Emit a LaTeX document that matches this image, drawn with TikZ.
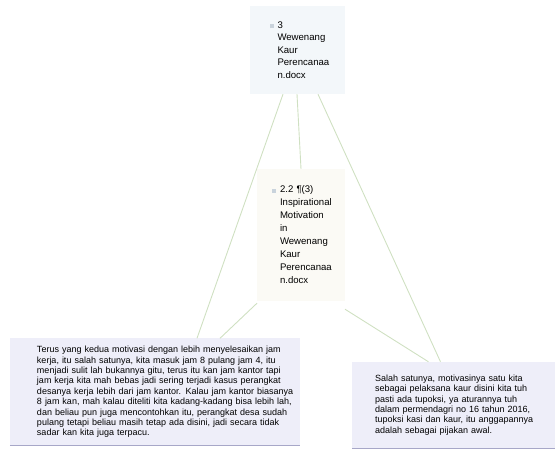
\documentclass[tikz,border=0pt]{standalone}
\usepackage{fontspec}
\setmainfont{Liberation Sans}
\usetikzlibrary{positioning,calc}
\definecolor{linkc}{HTML}{CFE0C2}
\definecolor{docfill}{HTML}{F3F7FA}
\definecolor{secfill}{HTML}{FBFAF5}
\definecolor{quotefill}{HTML}{EEEEF9}
\definecolor{quoteedge}{HTML}{A7A7C8}
\definecolor{markc}{HTML}{C9D3DC}
\newcommand{\docmark}{\makebox[0pt][r]{\textcolor{markc}{\rule{4pt}{4pt}}\hspace{4pt}}}

\begin{document}
\begin{tikzpicture}[x=1pt,y=-1pt,
  link/.style={draw=linkc,line width=0.9pt},
  docbox/.style={fill=docfill,inner sep=0pt,minimum width=95pt,minimum height=88pt,
    align=left,font=\fontsize{9.6}{12.5}\selectfont,text width=95pt},
  secbox/.style={fill=secfill,inner sep=0pt,minimum width=88pt,minimum height=132pt,
    align=left,font=\fontsize{9.6}{13}\selectfont,text width=88pt},
  quotebox/.style={fill=quotefill,inner sep=0pt,align=left,font=\fontsize{9}{10.4}\selectfont}]
\useasboundingbox (0,0) rectangle (558,465);

% document and section
\node[docbox] (doc) at (297,50) {\leftskip=28pt \docmark 3\\Wewenang\\Kaur\\Perencanaa\\n.docx\par};
\node[secbox] (sec) at (301,235) {\leftskip=23pt \docmark 2.2 ¶(3)\\Inspirational\\Motivation\\in\\Wewenang\\Kaur\\Perencanaa\\n.docx\par};

% quotations
\node[quotebox,minimum width=290pt,minimum height=107pt,text width=290pt] (qa) at (155,392)
  {\leftskip=27pt Terus yang kedua motivasi dengan lebih menyelesaikan jam\\
   kerja, itu salah satunya, kita masuk jam 8 pulang jam 4, itu\\
   menjadi sulit lah bukannya gitu, terus itu kan jam kantor tapi\\
   jam kerja kita mah bebas jadi sering terjadi kasus perangkat\\
   desanya kerja lebih dari jam kantor. Kalau jam kantor biasanya\\
   8 jam kan, mah kalau diteliti kita kadang-kadang bisa lebih lah,\\
   dan beliau pun juga mencontohkan itu, perangkat desa sudah\\
   pulang tetapi beliau masih tetap ada disini, jadi secara tidak\\
   sadar kan kita juga terpacu.\par};
\node[quotebox,minimum width=203pt,minimum height=86pt,text width=203pt] (qb) at (453.5,405)
  {\leftskip=23pt Salah satunya, motivasinya satu kita\\
   sebagai pelaksana kaur disini kita tuh\\
   pasti ada tupoksi, ya aturannya tuh\\
   dalam permendagri no 16 tahun 2016,\\
   tupoksi kasi dan kaur, itu anggapannya\\
   adalah sebagai pijakan awal.\par};
\draw[quoteedge,line width=1pt] (qa.south west) -- (qa.south east);
\draw[quoteedge,line width=1pt] (qb.south west) -- (qb.south east);

% links
\draw[link] ([xshift=-14pt]doc.south) -- ([xshift=42pt]qa.north);
\draw[link] (doc.south) -- (sec.north);
\draw[link] ([xshift=21pt]doc.south) -- ([xshift=-13pt]qb.north);
\draw[link] ([xshift=-44pt,yshift=-2pt]sec.south) -- ([xshift=65pt]qa.north);
\draw[link] ([xshift=44pt,yshift=-8pt]sec.south) -- ([xshift=-25pt]qb.north);
\end{tikzpicture}
\end{document}
